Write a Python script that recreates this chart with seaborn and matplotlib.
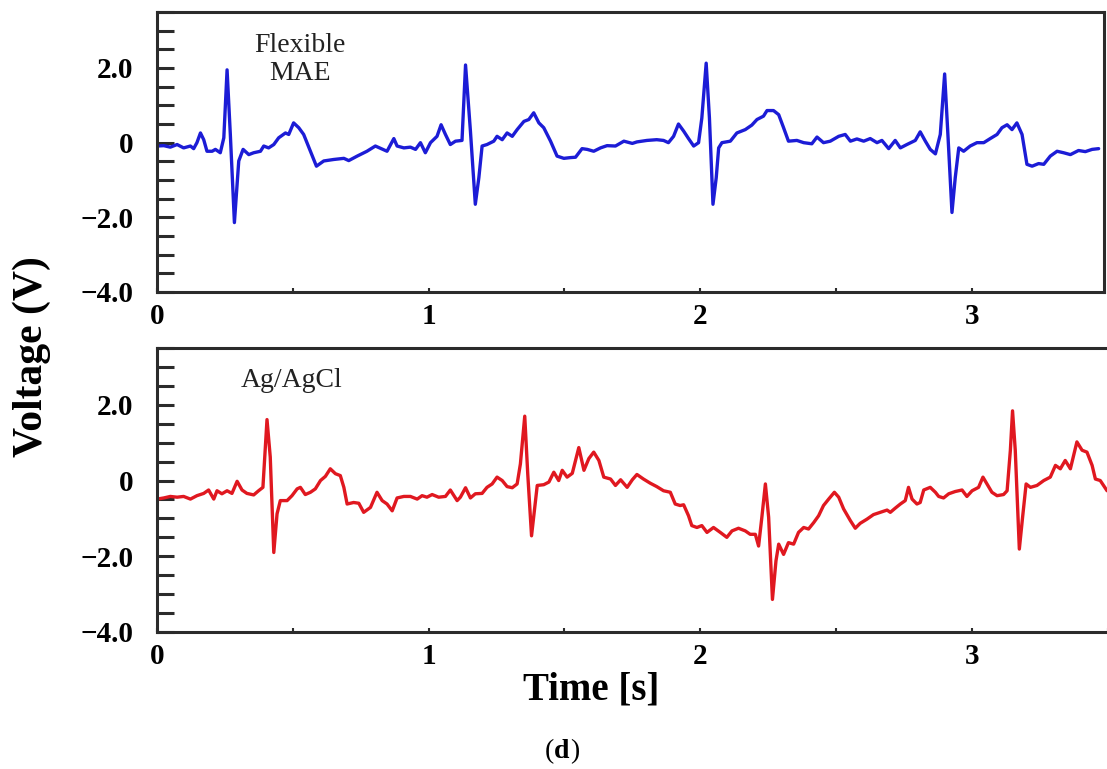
import matplotlib
matplotlib.use("Agg")
import matplotlib.pyplot as plt
from matplotlib.ticker import MultipleLocator, FixedLocator
import numpy as np
import pandas as pd
import seaborn as sns

# ---- ECG trace recorded with the flexible MAE electrode ----
mae_t = [0.000, 0.025, 0.049, 0.074, 0.098, 0.123, 0.135, 0.147, 0.160, 0.172,
         0.184, 0.203, 0.215, 0.233, 0.246, 0.258, 0.270, 0.285, 0.301, 0.317,
         0.338, 0.356, 0.381, 0.393, 0.411, 0.430, 0.448, 0.473, 0.485, 0.503,
         0.522, 0.540, 0.565, 0.587, 0.614, 0.651, 0.688, 0.706, 0.737, 0.773,
         0.804, 0.847, 0.872, 0.884, 0.909, 0.933, 0.952, 0.970, 0.988, 1.007,
         1.031, 1.046, 1.062, 1.080, 1.099, 1.123, 1.136, 1.154, 1.172, 1.185,
         1.197, 1.215, 1.240, 1.252, 1.271, 1.289, 1.308, 1.326, 1.351, 1.369,
         1.387, 1.406, 1.424, 1.449, 1.473, 1.498, 1.522, 1.541, 1.565, 1.584,
         1.608, 1.633, 1.657, 1.688, 1.719, 1.750,
         1.767, 1.804, 1.840, 1.865, 1.883, 1.902, 1.920, 1.939, 1.957, 1.976,
         1.994, 2.006, 2.022, 2.034, 2.047, 2.059, 2.068, 2.080, 2.111, 2.135,
         2.166, 2.190, 2.209, 2.233, 2.246, 2.270, 2.289, 2.307, 2.325, 2.356,
         2.381, 2.411, 2.430, 2.454, 2.479, 2.510, 2.534, 2.553, 2.577, 2.602,
         2.626, 2.651, 2.669, 2.694, 2.718, 2.737, 2.761, 2.792, 2.810, 2.829,
         2.847, 2.866, 2.884, 2.900, 2.912, 2.927, 2.939, 2.952, 2.970, 2.994,
         3.019, 3.044, 3.068, 3.093, 3.111, 3.130, 3.148, 3.166, 3.185, 3.203,
         3.222, 3.246, 3.265, 3.289, 3.314, 3.338, 3.363, 3.393, 3.418, 3.443,
         3.467]
mae_v = [-0.09, -0.08, -0.12, -0.05, -0.14, -0.09, -0.16, 0.00, 0.26, 0.08,
         -0.23, -0.23, -0.18, -0.27, 0.13, 1.95, 0.22, -2.14, -0.49, -0.18,
         -0.32, -0.27, -0.23, -0.09, -0.14, -0.05, 0.13, 0.26, 0.22, 0.53,
         0.40, 0.22, -0.23, -0.63, -0.49, -0.45, -0.42, -0.48, -0.36, -0.23,
         -0.09, -0.23, 0.11, -0.09, -0.14, -0.12, -0.18, 0.00, -0.27, 0.00,
         0.17, 0.48, 0.22, -0.05, 0.04, 0.06, 2.08, 0.31, -1.65, -0.94,
         -0.09, -0.05, 0.04, 0.17, 0.08, 0.26, 0.17, 0.35, 0.57, 0.62,
         0.80, 0.53, 0.40, 0.04, -0.36, -0.42, -0.40, -0.39, -0.16, -0.18,
         -0.23, -0.14, -0.08, -0.09, 0.04, -0.02,
         0.02, 0.06, 0.08, 0.06, 0.00, 0.17, 0.50, 0.31, 0.11, -0.09,
         0.00, 0.66, 2.13, 0.66, -1.65, -0.94, -0.14, 0.00, 0.04, 0.26,
         0.35, 0.47, 0.62, 0.71, 0.86, 0.86, 0.75, 0.40, 0.04, 0.06,
         0.00, -0.03, 0.15, 0.00, 0.04, 0.17, 0.22, 0.04, 0.10, 0.04,
         0.11, 0.00, 0.06, -0.16, 0.06, -0.14, -0.05, 0.06, 0.29, 0.04,
         -0.18, -0.30, 0.22, 1.84, 0.22, -1.87, -0.94, -0.14, -0.23, -0.09,
         0.00, 0.00, 0.11, 0.22, 0.40, 0.48, 0.35, 0.53, 0.22, -0.58,
         -0.63, -0.56, -0.58, -0.36, -0.23, -0.27, -0.32, -0.21, -0.24, -0.18,
         -0.16]

# ---- ECG trace recorded with the Ag/AgCl reference electrode ----
agcl_t = [0.000, 0.025, 0.049, 0.074, 0.098, 0.123, 0.147, 0.172, 0.190, 0.209,
          0.221, 0.239, 0.258, 0.276, 0.295, 0.313, 0.331, 0.356, 0.374, 0.390,
          0.405, 0.417, 0.430, 0.442, 0.454, 0.479, 0.497, 0.516, 0.528, 0.546,
          0.565, 0.583, 0.602, 0.620, 0.638, 0.657, 0.675, 0.688, 0.700, 0.724,
          0.743, 0.761, 0.786, 0.810, 0.829, 0.847, 0.866, 0.884, 0.909, 0.933,
          0.958, 0.976, 0.994, 1.013, 1.037, 1.062, 1.080, 1.105, 1.117, 1.136,
          1.154, 1.172, 1.197, 1.215, 1.234, 1.252, 1.271, 1.289, 1.308, 1.326,
          1.338, 1.354, 1.365, 1.379, 1.391, 1.400, 1.424, 1.443, 1.461, 1.479,
          1.492, 1.510, 1.529, 1.553, 1.572, 1.590, 1.608, 1.627, 1.645, 1.670,
          1.688, 1.707, 1.731, 1.750,
          1.767, 1.791, 1.816, 1.840, 1.865, 1.890, 1.908, 1.926, 1.939, 1.957,
          1.969, 1.988, 2.006, 2.025, 2.049, 2.074, 2.098, 2.117, 2.141, 2.166,
          2.184, 2.203, 2.215, 2.227, 2.240, 2.252, 2.266, 2.279, 2.289, 2.307,
          2.325, 2.344, 2.362, 2.381, 2.399, 2.418, 2.436, 2.454, 2.473, 2.494,
          2.510, 2.528, 2.553, 2.571, 2.589, 2.614, 2.638, 2.663, 2.688, 2.700,
          2.718, 2.737, 2.755, 2.767, 2.780, 2.798, 2.810, 2.823, 2.847, 2.866,
          2.878, 2.896, 2.915, 2.939, 2.964, 2.982, 3.001, 3.025, 3.041, 3.056,
          3.074, 3.093, 3.117, 3.130, 3.142, 3.150, 3.160, 3.175, 3.187, 3.200,
          3.216, 3.240, 3.265, 3.289, 3.308, 3.326, 3.344, 3.363, 3.375, 3.387,
          3.406, 3.424, 3.443, 3.455, 3.473, 3.498]
agcl_v = [-0.49, -0.46, -0.42, -0.44, -0.42, -0.49, -0.40, -0.34, -0.25, -0.49,
          -0.27, -0.35, -0.27, -0.34, -0.02, -0.25, -0.34, -0.38, -0.27, -0.18,
          1.61, 0.62, -1.90, -0.88, -0.53, -0.53, -0.40, -0.22, -0.18, -0.37,
          -0.31, -0.22, 0.00, 0.11, 0.31, 0.18, 0.13, -0.18, -0.62, -0.58,
          -0.60, -0.84, -0.71, -0.31, -0.53, -0.62, -0.80, -0.46, -0.42, -0.42,
          -0.49, -0.40, -0.44, -0.37, -0.44, -0.42, -0.25, -0.53, -0.44, -0.19,
          -0.46, -0.35, -0.34, -0.18, -0.09, 0.09, 0.00, -0.16, -0.19, -0.09,
          0.44, 1.70, 0.18, -1.46, -0.71, -0.13, -0.11, -0.04, 0.22, 0.00,
          0.27, 0.09, 0.19, 0.87, 0.27, 0.58, 0.75, 0.53, 0.09, 0.04,
          -0.13, 0.02, -0.18, 0.02,
          0.16, 0.04, -0.07, -0.16, -0.27, -0.31, -0.62, -0.66, -0.64, -0.93,
          -1.19, -1.24, -1.19, -1.37, -1.24, -1.37, -1.50, -1.33, -1.26, -1.33,
          -1.42, -1.42, -1.73, -0.97, -0.09, -0.97, -3.14, -2.12, -1.68, -1.95,
          -1.64, -1.68, -1.37, -1.24, -1.28, -1.11, -0.93, -0.66, -0.49, -0.31,
          -0.44, -0.75, -1.06, -1.26, -1.13, -1.02, -0.90, -0.84, -0.78, -0.84,
          -0.73, -0.62, -0.53, -0.18, -0.49, -0.62, -0.58, -0.25, -0.18, -0.31,
          -0.42, -0.46, -0.35, -0.29, -0.25, -0.42, -0.27, -0.18, 0.09, -0.09,
          -0.31, -0.40, -0.37, -0.27, 0.80, 1.84, 0.80, -1.81, -0.97, -0.09,
          -0.18, -0.13, 0.00, 0.09, 0.40, 0.31, 0.53, 0.31, 0.66, 1.02,
          0.80, 0.75, 0.40, 0.04, 0.00, -0.27]

y_major = [-4.0, -2.0, 0.0, 2.0]
y_labels = ["\u22124.0", "\u22122.0", "0", "2.0"]
x_major = [0, 1, 2, 3]
x_labels = ["0", "1", "2", "3"]

sns.set_theme(style="ticks")
plt.rcParams["font.family"] = ["Liberation Serif", "DejaVu Serif"]

W, H = 1107, 769
fig = plt.figure(figsize=(W / 100, H / 100), dpi=100)
fig.patch.set_facecolor("white")

spine_col = "#2b2b2b"
px_per_s = 271.6


def make_axes(left_px, top_px, bottom_px, xmax):
    width_px = xmax * px_per_s
    return fig.add_axes([left_px / W, 1 - bottom_px / H,
                         width_px / W, (bottom_px - top_px) / H])


def style_axes(ax, xmax):
    ax.set_xlim(0, xmax)
    ax.set_ylim(-4.0, 3.5)
    ax.set_facecolor("white")
    for s in ax.spines.values():
        s.set_visible(True)
        s.set_color(spine_col)
        s.set_linewidth(2.2)
    ax.yaxis.set_major_locator(FixedLocator(y_major))
    ax.yaxis.set_minor_locator(MultipleLocator(0.5))
    ax.set_yticklabels(y_labels)
    ax.xaxis.set_major_locator(FixedLocator(x_major))
    ax.xaxis.set_minor_locator(MultipleLocator(0.5))
    ax.set_xticklabels(x_labels)
    ax.tick_params(axis="y", which="both", direction="in", length=12,
                   width=2.2, color=spine_col, pad=17, labelsize=21,
                   left=True, right=False)
    ax.tick_params(axis="x", which="both", direction="in", length=3,
                   width=1.5, color=spine_col, pad=8, labelsize=21,
                   bottom=True, top=False)
    for lab in ax.get_xticklabels() + ax.get_yticklabels():
        lab.set_fontweight("bold")
        lab.set_color("black")
    ax.set_xlabel("")
    ax.set_ylabel("")
    ax.grid(False)


line_kw = dict(linewidth=2.4, estimator=None, sort=False,
               solid_joinstyle="round", solid_capstyle="round")

# Upper panel: flexible MAE electrode
top_xmax = 3.487
ax1 = make_axes(157, 12, 292, top_xmax)
df_mae = pd.DataFrame({"t": mae_t, "v": mae_v})
sns.lineplot(data=df_mae, x="t", y="v", ax=ax1, color="#1c1cd6", **line_kw)
style_axes(ax1, top_xmax)
ax1.text(0.527, 2.23, "Flexible\nMAE", ha="center", va="center",
         multialignment="center", fontsize=20, color="#222222",
         linespacing=1.2)

# Lower panel: Ag/AgCl electrode
bot_xmax = 3.51
ax2 = make_axes(157, 348, 632, bot_xmax)
df_agcl = pd.DataFrame({"t": agcl_t, "v": agcl_v})
sns.lineplot(data=df_agcl, x="t", y="v", ax=ax2, color="#e01820", **line_kw)
style_axes(ax2, bot_xmax)
ax2.text(0.497, 2.63, "Ag/AgCl", ha="center", va="center",
         fontsize=20, color="#222222")

# Shared axis titles and panel tag
fig.text(32 / W, 1 - 357 / H, "Voltage (V)", rotation=90, ha="center",
         va="center", fontsize=30, fontweight="bold", color="black")
fig.text(591 / W, 1 - 690 / H, "Time [s]", ha="center", va="center",
         fontsize=28, fontweight="bold", color="black")
# "(d)" with regular parentheses and a bold letter
fig.text(562 / W - 0.0075, 1 - 752 / H, "(", ha="right", va="center",
         fontsize=20, color="black")
fig.text(562 / W, 1 - 752 / H, "d", ha="center", va="center",
         fontsize=20, fontweight="bold", color="black")
fig.text(562 / W + 0.0075, 1 - 752 / H, ")", ha="left", va="center",
         fontsize=20, color="black")

fig.savefig("out.png", dpi=100)
